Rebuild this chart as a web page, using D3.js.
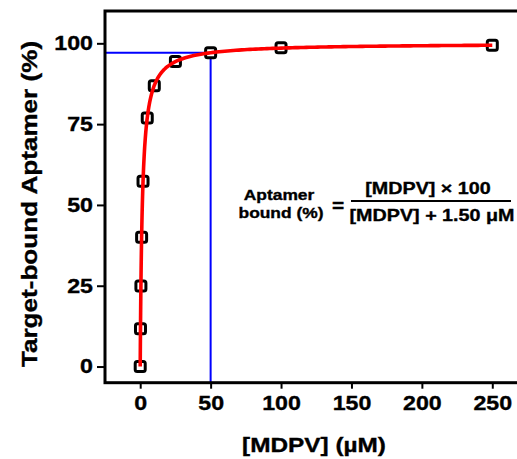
<!DOCTYPE html>
<html>
<head>
<meta charset="utf-8">
<script src="https://cdn.jsdelivr.net/npm/d3@7"></script>
<style>
  html, body { margin: 0; padding: 0; background: #fff; overflow: hidden; }
  svg { display: block; font-family: "Liberation Sans", Arial, sans-serif; font-weight: bold; }
  text { stroke: #000; stroke-width: 0.35px; fill: #000; }
</style>
</head>
<body>
<svg id="chart" width="517" height="459"></svg>
<script>
// Measured binding data: MDPV concentration (µM) vs. target-bound aptamer (%)
const concentrations = [0, 0.2, 0.5, 1, 2, 5, 10, 25, 50, 100, 250];
const boundPercent   = [0, 11.7, 24.9, 40.0, 57.3, 76.9, 86.9, 94.4, 97.1, 98.6, 99.4];

// Fitted dissociation constant (µM) of the one-site binding model
const KD = 1.50;

// Guide lines marking the 50 µM reading
const guideX = [50];
const guideY = [97.1];

const xTicks = [0, 50, 100, 150, 200, 250];
const yTicks = [0, 25, 50, 75, 100];

// Wide bold lettering: glyphs are stretched horizontally
const WIDE = 1.16;

const svg = d3.select("#chart");
const margin = { left: 105, top: 11 };
const plotW = 422.5, plotH = 371.7;

const x = d3.scaleLinear().domain([-25, 275]).range([0, plotW]);
const y = d3.scaleLinear().domain([-5, 110]).range([plotH, 0]);

const g = svg.append("g").attr("transform", `translate(${margin.left},${margin.top})`);

// Axes
const xAxis = d3.axisBottom(x).tickValues(xTicks).tickSize(6).tickPadding(7);
const yAxis = d3.axisLeft(y).tickValues(yTicks).tickSize(8).tickPadding(4);

const gx = g.append("g").attr("transform", `translate(0,${plotH})`).call(xAxis);
const gy = g.append("g").call(yAxis);
[gx, gy].forEach(a => {
  a.select(".domain").remove();
  a.selectAll(".tick line").attr("stroke", "#000").attr("stroke-width", 2);
  a.selectAll(".tick text")
    .style("font-size", "20px").style("font-weight", "bold")
    .style("font-family", "'Liberation Sans', Arial, sans-serif")
    .attr("fill", "#000")
    .each(function () {
      const t = d3.select(this);
      const tx = +t.attr("x") || 0;
      t.attr("x", 0).attr("transform", `translate(${tx},0) scale(${WIDE},1)`);
    });
});

// Guide lines (blue)
g.append("line")
  .attr("x1", 0).attr("x2", x(guideX[0]))
  .attr("y1", y(guideY[0])).attr("y2", y(guideY[0]))
  .attr("stroke", "#0000ff").attr("stroke-width", 2);
g.append("line")
  .attr("x1", x(guideX[0])).attr("x2", x(guideX[0]))
  .attr("y1", y(guideY[0])).attr("y2", plotH)
  .attr("stroke", "#0000ff").attr("stroke-width", 2);

// Data markers: hollow squares
g.selectAll("rect.pt")
  .data(concentrations.map((c, i) => [c, boundPercent[i]]))
  .join("rect")
  .attr("class", "pt")
  .attr("x", d => x(d[0]) - 5)
  .attr("y", d => y(d[1]) - 5)
  .attr("width", 10).attr("height", 10)
  .attr("rx", 2)
  .attr("fill", "#fff")
  .attr("stroke", "#000")
  .attr("stroke-width", 3);

// Fitted binding curve from the one-site model
const fitX = d3.range(0, 2, 0.02).concat(d3.range(2, 20, 0.2), d3.range(20, 250.01, 2));
const fit = fitX.map(c => [c, 100 * c / (c + KD)]);
g.append("path")
  .datum(fit)
  .attr("fill", "none")
  .attr("stroke", "#ff0000")
  .attr("stroke-width", 3.6)
  .attr("d", d3.line().x(d => x(d[0])).y(d => y(d[1])));

// Frame
g.append("rect")
  .attr("x", 0).attr("y", 0).attr("width", plotW).attr("height", plotH)
  .attr("fill", "none").attr("stroke", "#000").attr("stroke-width", 3);

// Text helper: stretched lettering anchored at (px, py)
function label(parent, px, py, str, size, anchor = "middle", rotate = 0) {
  return parent.append("text")
    .attr("transform", `translate(${px},${py}) rotate(${rotate}) scale(${WIDE},1)`)
    .attr("text-anchor", anchor)
    .style("font-size", size + "px")
    .text(str);
}

// Axis titles
label(svg, 314, 452, "[MDPV] (µM)", 21);
label(svg, 37, 204, "Target-bound Aptamer (%)", 22.5, "middle", -90);

// Binding equation
const eq = svg.append("g");
label(eq, 279, 200, "Aptamer", 15);
label(eq, 281, 218, "bound (%)", 15);
label(eq, 338, 212, "=", 18);
label(eq, 428, 193.5, "[MDPV] × 100", 17);
eq.append("line").attr("x1", 351).attr("x2", 511).attr("y1", 201).attr("y2", 201)
  .attr("stroke", "#000").attr("stroke-width", 2);
label(eq, 432, 220.5, "[MDPV] + 1.50 μM", 17);
</script>
</body>
</html>
